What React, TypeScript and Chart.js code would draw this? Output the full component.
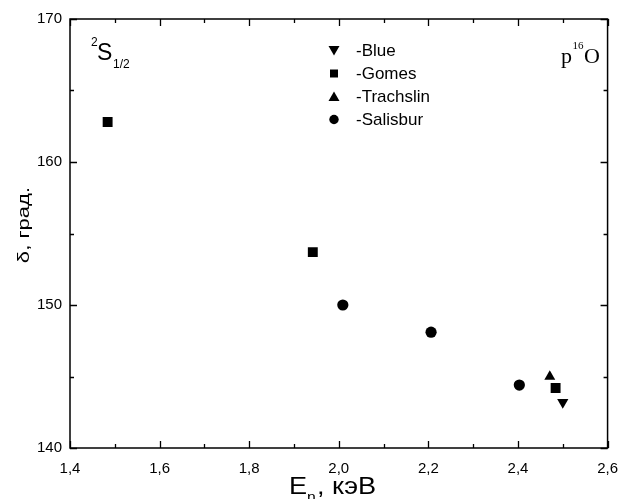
import React, { useEffect, useRef } from 'react';
import { Chart, registerables } from 'chart.js';

Chart.register(...registerables);

// ---- data ----
const blueX = [2.5];
const blueY = [143.2];
const gomesX = [1.484, 1.942, 2.484];
const gomesY = [162.8, 153.7, 144.2];
const trachslinX = [2.471];
const trachslinY = [145.0];
const salisburX = [2.009, 2.206, 2.403];
const salisburY = [150.0, 148.1, 144.4];

const seriesNames = ['-Blue', '-Gomes', '-Trachslin', '-Salisbur'];

const xTicks = [1.4, 1.5, 1.6, 1.7, 1.8, 1.9, 2.0, 2.1, 2.2, 2.3, 2.4, 2.5, 2.6];
const xTickLabels = ['1,4', '', '1,6', '', '1,8', '', '2,0', '', '2,2', '', '2,4', '', '2,6'];
const yTicks = [140, 145, 150, 155, 160, 165, 170];
const yTickLabels = ['140', '', '150', '', '160', '', '170'];

const xTitleMain = 'E';
const xTitleSub = 'n';
const xTitleRest = ', кэВ';
const yTitle = 'δ, град.';
const stateLabel = { sup: '2', main: 'S', sub: '1/2' };
const systemLabel = { pre: 'p', sup: '16', post: 'O' };

const zip = (xs: number[], ys: number[]) => xs.map((x, i) => ({ x, y: ys[i] }));

const SANS = '"Liberation Sans", Arial, sans-serif';
const SERIF = '"Liberation Serif", "Times New Roman", serif';

function drawMarker(ctx: CanvasRenderingContext2D, kind: string, cx: number, cy: number, s: number) {
  ctx.beginPath();
  if (kind === 'down') {
    ctx.moveTo(cx - s * 0.55, cy - s * 0.45);
    ctx.lineTo(cx + s * 0.55, cy - s * 0.45);
    ctx.lineTo(cx, cy + s * 0.5);
  } else if (kind === 'up') {
    ctx.moveTo(cx - s * 0.55, cy + s * 0.45);
    ctx.lineTo(cx + s * 0.55, cy + s * 0.45);
    ctx.lineTo(cx, cy - s * 0.5);
  } else if (kind === 'rect') {
    ctx.rect(cx - s * 0.4, cy - s * 0.4, s * 0.8, s * 0.8);
  } else {
    ctx.arc(cx, cy, s * 0.47, 0, Math.PI * 2);
  }
  ctx.closePath();
  ctx.fill();
}

const framePlugin = {
  id: 'frameAndText',
  afterDraw(chart: any) {
    const { ctx, chartArea } = chart;
    const { left, right, top, bottom } = chartArea;
    const xs = chart.scales.x;
    const ys = chart.scales.y;
    ctx.save();
    ctx.strokeStyle = '#000';
    ctx.fillStyle = '#000';
    ctx.lineWidth = 1.5;
    ctx.strokeRect(left, top, right - left, bottom - top);
    ctx.lineWidth = 1.3;
    xTicks.forEach((v, i) => {
      const px = Math.round(xs.getPixelForValue(v)) + 0.5;
      const L = xTickLabels[i] ? 7 : 4;
      ctx.beginPath();
      ctx.moveTo(px, bottom);
      ctx.lineTo(px, bottom - L);
      ctx.moveTo(px, top);
      ctx.lineTo(px, top + L);
      ctx.stroke();
    });
    yTicks.forEach((v, i) => {
      const py = Math.round(ys.getPixelForValue(v)) + 0.5;
      const L = yTickLabels[i] ? 7 : 4;
      ctx.beginPath();
      ctx.moveTo(left, py);
      ctx.lineTo(left + L, py);
      ctx.moveTo(right, py);
      ctx.lineTo(right - L, py);
      ctx.stroke();
    });

    // legend
    const kinds = ['down', 'rect', 'up', 'circle'];
    ctx.textBaseline = 'alphabetic';
    ctx.textAlign = 'left';
    ctx.font = `17px ${SANS}`;
    seriesNames.forEach((name, i) => {
      const cy = 50.5 + i * 23;
      drawMarker(ctx, kinds[i], 334, cy, 10);
      ctx.fillText(name, 356, cy + 5);
    });

    // state label ^2S_1/2
    ctx.font = `12px ${SANS}`;
    ctx.fillText(stateLabel.sup, 91, 46);
    ctx.font = `23px ${SANS}`;
    ctx.fillText(stateLabel.main, 97, 60);
    ctx.font = `12px ${SANS}`;
    ctx.fillText(stateLabel.sub, 113, 67.5);

    // p^16O
    ctx.font = `22px ${SERIF}`;
    ctx.fillText(systemLabel.pre, 561, 63);
    ctx.font = `11px ${SERIF}`;
    ctx.fillText(systemLabel.sup, 572.5, 48.5);
    ctx.font = `22px ${SERIF}`;
    ctx.fillText(systemLabel.post, 584, 63);

    // x title (slightly stretched horizontally like the original)
    ctx.save();
    ctx.translate(289, 0);
    ctx.scale(1.13, 1);
    let x0 = 0;
    ctx.font = `24px ${SANS}`;
    ctx.fillText(xTitleMain, x0, 494);
    x0 += ctx.measureText(xTitleMain).width;
    ctx.font = `14px ${SANS}`;
    ctx.fillText(xTitleSub, x0, 502);
    x0 += ctx.measureText(xTitleSub).width + 1;
    ctx.font = `24px ${SANS}`;
    ctx.fillText(xTitleRest, x0, 494);
    ctx.restore();

    // y title
    ctx.save();
    ctx.translate(28.5, 225);
    ctx.rotate(-Math.PI / 2);
    ctx.scale(1.3, 1);
    ctx.font = `17px ${SANS}`;
    ctx.textAlign = 'center';
    ctx.fillText(yTitle, 0, 0);
    ctx.restore();

    ctx.restore();
  },
};

export default function App() {
  const ref = useRef<HTMLCanvasElement | null>(null);
  useEffect(() => {
    if (!ref.current) return;
    const chart = new Chart(ref.current, {
      type: 'scatter',
      data: {
        datasets: [
          { label: 'Blue', data: zip(blueX, blueY), pointStyle: 'triangle', rotation: 180, pointRadius: 6.5, backgroundColor: '#000', borderColor: '#000', borderWidth: 0 },
          { label: 'Gomes', data: zip(gomesX, gomesY), pointStyle: 'rect', pointRadius: 7, backgroundColor: '#000', borderColor: '#000', borderWidth: 0 },
          { label: 'Trachslin', data: zip(trachslinX, trachslinY), pointStyle: 'triangle', pointRadius: 6.3, backgroundColor: '#000', borderColor: '#000', borderWidth: 0 },
          { label: 'Salisbur', data: zip(salisburX, salisburY), pointStyle: 'circle', pointRadius: 5.6, backgroundColor: '#000', borderColor: '#000', borderWidth: 0 },
        ],
      },
      options: {
        responsive: false,
        animation: false,
        devicePixelRatio: 1,
        layout: { padding: { top: 19, right: 10, left: 0, bottom: 0 } },
        plugins: { legend: { display: false }, tooltip: { enabled: false } },
        scales: {
          x: {
            type: 'linear',
            min: 1.4,
            max: 2.6,
            afterBuildTicks: (s: any) => { s.ticks = xTicks.map((v) => ({ value: v })); },
            afterFit: (s: any) => { s.height = 51; },
            grid: { display: false, drawTicks: false },
            border: { display: false },
            ticks: {
              autoSkip: false, maxRotation: 0, minRotation: 0, padding: 12,
              color: '#000',
              font: { family: SANS, size: 15 },
              callback: (_v: any, i: number) => xTickLabels[i],
            },
          },
          y: {
            type: 'linear',
            min: 140,
            max: 170,
            afterBuildTicks: (s: any) => { s.ticks = yTicks.map((v) => ({ value: v })); },
            afterFit: (s: any) => { s.width = 70; },
            grid: { display: false, drawTicks: false },
            border: { display: false },
            ticks: {
              autoSkip: false, padding: 8,
              color: '#000',
              font: { family: SANS, size: 15 },
              callback: (_v: any, i: number) => yTickLabels[i],
            },
          },
        },
      },
      plugins: [framePlugin],
    });
    return () => chart.destroy();
  }, []);
  return (
    <div style={{ position: 'fixed', left: 0, top: 0, width: 630, height: 499, background: '#fff' }}>
      <canvas ref={ref} width={630} height={499} />
    </div>
  );
}
